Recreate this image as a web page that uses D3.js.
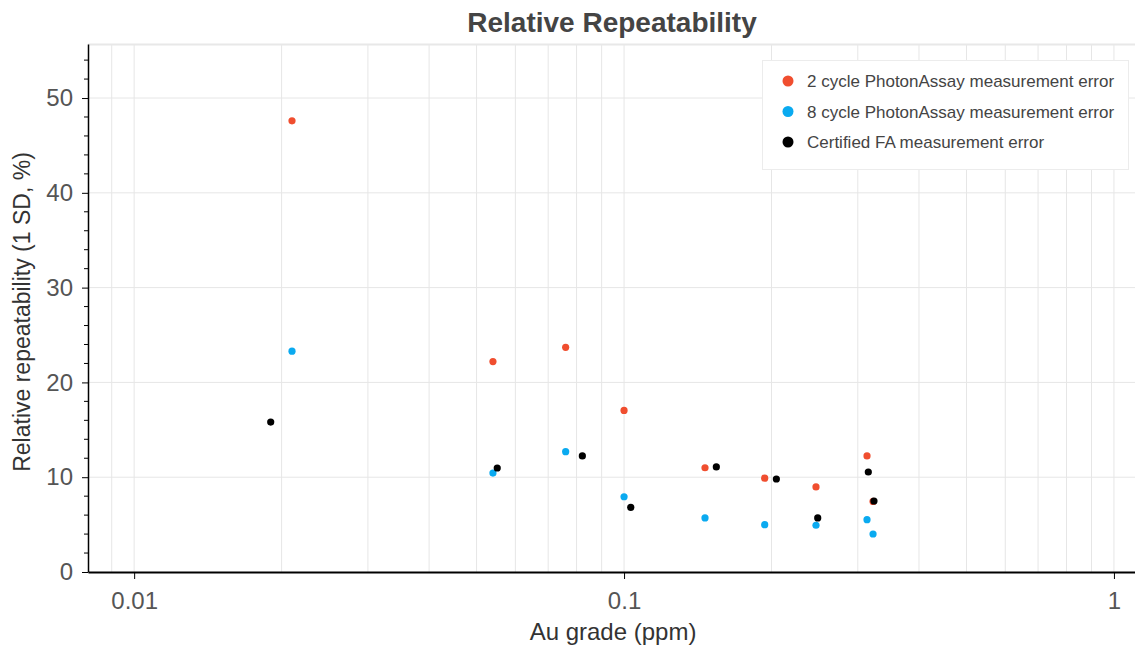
<!DOCTYPE html>
<html>
<head>
<meta charset="utf-8">
<script src="https://cdn.jsdelivr.net/npm/d3@7"></script>
<style>
  html, body { margin: 0; padding: 0; background: #fff; }
  svg { display: block; font-family: "Liberation Sans", Arial, sans-serif; }
</style>
</head>
<body>
<svg id="chart" width="1135" height="650"></svg>
<script>
// Au grade (ppm) and relative repeatability (1 SD, %) for each series
const grade2 = [0.0210, 0.0540, 0.0760, 0.1000, 0.1463, 0.1937, 0.2465, 0.3133, 0.3223];
const rep2   = [47.6, 22.2, 23.7, 17.05, 11.0, 9.9, 8.97, 12.24, 7.45];

const grade8 = [0.0210, 0.0540, 0.0760, 0.1000, 0.1463, 0.1937, 0.2465, 0.3133, 0.3223];
const rep8   = [23.3, 10.44, 12.69, 7.94, 5.70, 4.99, 4.93, 5.52, 4.01];

const gradeFA = [0.0190, 0.0551, 0.0822, 0.1032, 0.1543, 0.2046, 0.2485, 0.3152, 0.3237];
const repFA   = [15.82, 10.97, 12.24, 6.82, 11.08, 9.81, 5.70, 10.55, 7.49];

const seriesNames = [
  "2 cycle PhotonAssay measurement error",
  "8 cycle PhotonAssay measurement error",
  "Certified FA measurement error"
];
const seriesColors = ["#f04e2f", "#0aaaf0", "#000000"];

const xTickValues = [0.01, 0.1, 1];
const yTickValues = [0, 10, 20, 30, 40, 50];

const svg = d3.select("#chart");
const margin = { left: 88, right: 0, top: 44, bottom: 78 };
const W = 1135, H = 650;

const x = d3.scaleLog().domain([0.00805, 1.104]).range([margin.left, W - margin.right]);
const y = d3.scaleLinear().domain([0, 55.7]).range([H - margin.bottom, margin.top]);

const x0 = margin.left, x1 = W - margin.right;
const y0 = H - margin.bottom, y1 = margin.top;

// grid: vertical at every log sub-decade value, horizontal at major y ticks
const xGrid = [];
for (let e = -3; e <= 0; e++) {
  for (let m = 1; m <= 9; m++) {
    const v = m * Math.pow(10, e);
    if (v >= x.domain()[0] && v <= x.domain()[1]) xGrid.push(v);
  }
}
svg.append("g").selectAll("line").data(xGrid).join("line")
  .attr("x1", d => x(d)).attr("x2", d => x(d))
  .attr("y1", y0).attr("y2", y1)
  .attr("stroke", "#e6e6e6").attr("stroke-width", 1);

svg.append("g").selectAll("line").data(yTickValues.filter(d => d > 0)).join("line")
  .attr("x1", x0).attr("x2", x1)
  .attr("y1", d => y(d)).attr("y2", d => y(d))
  .attr("stroke", "#e6e6e6").attr("stroke-width", 1);

// top border
svg.append("line")
  .attr("x1", x0).attr("x2", x1).attr("y1", y1 + 0.5).attr("y2", y1 + 0.5)
  .attr("stroke", "#e8e8e8").attr("stroke-width", 2);

// y axis with minor ticks every 2
const yMinor = d3.range(0, 56, 2).filter(d => d % 10 !== 0);
svg.append("g").selectAll("line").data(yMinor).join("line")
  .attr("x1", x0 - 4).attr("x2", x0)
  .attr("y1", d => y(d)).attr("y2", d => y(d))
  .attr("stroke", "#000").attr("stroke-width", 1);

const yAxis = svg.append("g")
  .attr("transform", `translate(${x0},0)`)
  .call(d3.axisLeft(y).tickValues(yTickValues).tickSize(6).tickSizeOuter(0).tickPadding(9).tickFormat(d3.format("d")));
yAxis.select(".domain").attr("stroke", "#000").attr("stroke-width", 1.5);
yAxis.selectAll("text").attr("font-size", 24).attr("fill", "#555");

const xAxis = svg.append("g")
  .attr("transform", `translate(0,${y0})`)
  .call(d3.axisBottom(x).tickValues(xTickValues).tickSize(7).tickSizeOuter(0).tickPadding(13)
    .tickFormat(d => String(d)));
xAxis.select(".domain").attr("stroke", "#000").attr("stroke-width", 2);
xAxis.selectAll("text").attr("font-size", 24).attr("fill", "#555");

// points
const seriesData = [
  grade2.map((g, i) => ({ g, r: rep2[i] })),
  grade8.map((g, i) => ({ g, r: rep8[i] })),
  gradeFA.map((g, i) => ({ g, r: repFA[i] }))
];
seriesData.forEach((pts, si) => {
  svg.append("g").selectAll("circle").data(pts).join("circle")
    .attr("cx", d => x(d.g)).attr("cy", d => y(d.r))
    .attr("r", 3.6)
    .attr("fill", seriesColors[si]);
});

// title and axis titles
svg.append("text")
  .attr("x", 612).attr("y", 32)
  .attr("text-anchor", "middle")
  .attr("font-size", 28).attr("font-weight", "bold").attr("fill", "#444")
  .text("Relative Repeatability");

svg.append("text")
  .attr("x", 613).attr("y", 640)
  .attr("text-anchor", "middle")
  .attr("font-size", 24).attr("fill", "#333")
  .text("Au grade (ppm)");

svg.append("text")
  .attr("transform", `translate(30,312) rotate(-90)`)
  .attr("text-anchor", "middle")
  .attr("font-size", 23).attr("fill", "#333")
  .text("Relative repeatability (1 SD, %)");

// legend
const lg = svg.append("g");
lg.append("rect")
  .attr("x", 762.5).attr("y", 60.5).attr("width", 366).attr("height", 109)
  .attr("fill", "#fff").attr("stroke", "#ececec");
seriesNames.forEach((name, i) => {
  const ly = 81 + i * 30.5;
  lg.append("circle").attr("cx", 788).attr("cy", ly).attr("r", 5.5).attr("fill", seriesColors[i]);
  lg.append("text").attr("x", 807).attr("y", ly + 6)
    .attr("font-size", 17).attr("fill", "#444").text(name);
});
</script>
</body>
</html>
